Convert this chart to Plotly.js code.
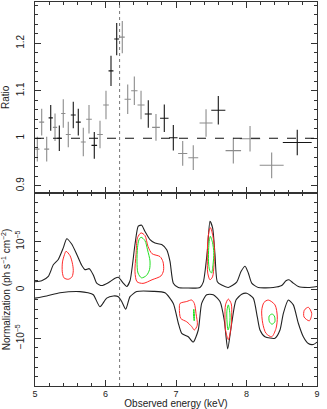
<!DOCTYPE html>
<html>
<head>
<meta charset="utf-8">
<script src="https://cdn.plot.ly/plotly-3.0.1.min.js"></script>
<style>
  html, body { margin: 0; padding: 0; background: #fff; }
  #chart { width: 327px; height: 409px; }
</style>
</head>
<body>
<div id="chart"></div>
<script>
// top panel: data / model ratio
var energy = [5.033, 5.095, 5.166, 5.223, 5.284, 5.345, 5.401, 5.472, 5.543, 5.614, 5.685,
  5.766, 5.841, 5.922, 6.007, 6.078, 6.159, 6.238, 6.315, 6.409, 6.504, 6.607, 6.716,
  6.834, 6.962, 7.095, 7.245, 7.426, 7.600, 7.813, 8.050, 8.357, 8.720];
var energyErr = [0.03, 0.035, 0.035, 0.03, 0.03, 0.03, 0.03, 0.035, 0.035, 0.035, 0.035,
  0.04, 0.04, 0.04, 0.04, 0.035, 0.035, 0.035, 0.045, 0.045, 0.05, 0.05, 0.055,
  0.06, 0.06, 0.065, 0.07, 0.092, 0.10, 0.11, 0.145, 0.17, 0.205];
var ratio = [0.977, 1.034, 0.977, 1.043, 1.023, 1.000, 1.052, 1.008, 1.049, 1.034, 0.992,
  1.040, 0.985, 1.008, 1.070, 1.142, 1.209, 1.213, 1.082, 1.100, 1.070, 1.051, 1.023,
  1.042, 1.001, 0.968, 0.959, 1.032, 1.059, 0.974, 0.999, 0.943, 0.991];
var ratioErr = [0.026, 0.028, 0.026, 0.027, 0.029, 0.027, 0.030, 0.027, 0.028, 0.028, 0.030,
  0.030, 0.028, 0.029, 0.030, 0.032, 0.034, 0.034, 0.031, 0.030, 0.030, 0.029, 0.028,
  0.029, 0.027, 0.026, 0.026, 0.029, 0.030, 0.027, 0.027, 0.027, 0.027];
// k = dark cross, g = grey cross
var shade = ["g","g","g","k","g","k","g","g","k","k","g",
  "g","k","g","g","k","k","g","g","g","g","k","g",
  "k","k","g","g","g","k","g","g","g","k"];

var lineEnergy = 6.2;

// bottom panel: normalization contours (units of 1e-5 ph/s/cm2)
var upperE = [5.0, 5.095, 5.189, 5.26, 5.33, 5.401, 5.45, 5.52, 5.591, 5.662, 5.709, 5.77, 5.827,
  5.875, 5.946, 6.04, 6.135, 6.182, 6.252, 6.30, 6.348, 6.418, 6.465, 6.513, 6.56, 6.631,
  6.702, 6.797, 6.868, 6.915, 6.962, 7.033, 7.152, 7.34, 7.387, 7.444, 7.482, 7.52, 7.553,
  7.586, 7.648, 7.742, 7.861, 7.922, 7.979, 8.026, 8.074, 8.167, 8.38, 8.499, 8.56, 8.603,
  8.664, 8.735, 8.877, 9.0];
var upperN = [0.17, 0.19, 0.28, 0.52, 0.63, 0.87, 1.06, 0.95, 0.74, 0.51, 0.42, 0.44, 0.31,
  0.14, 0.09, 0.15, 0.24, 0.26, 0.14, 0.07, 0.19, 0.94, 1.32, 1.34, 1.21, 1.04,
  0.97, 0.94, 0.83, 0.59, 0.14, 0.05, 0.04, 0.05, 0.16, 0.80, 1.42, 1.28, 0.73,
  0.17, 0.10, 0.05, 0.16, 0.38, 0.49, 0.35, 0.14, 0.05, 0.05, 0.09, 0.19, 0.21,
  0.14, 0.07, 0.05, 0.07];
var lowerE = [5.0, 5.166, 5.355, 5.638, 5.752, 5.827, 5.922, 6.017, 6.111, 6.182, 6.23, 6.287,
  6.348, 6.443, 6.678, 6.844, 6.962, 7.033, 7.081, 7.174, 7.245, 7.316, 7.364, 7.435, 7.529,
  7.624, 7.685, 7.733, 7.79, 7.851, 7.932, 8.003, 8.096, 8.153, 8.191, 8.262, 8.404, 8.475,
  8.522, 8.593, 8.664, 8.735, 8.806, 8.877, 8.948, 9.0];
var lowerN = [-0.17, -0.125, -0.06, -0.035, -0.06, -0.10, -0.35, -0.17, -0.125, -0.14, -0.24, -0.40,
  -0.14, -0.035, -0.03, -0.06, -0.28, -0.69, -0.90, -0.97, -1.08, -0.83, -0.28, -0.10, -0.10,
  -0.24, -0.63, -1.22, -0.69, -0.21, -0.09, -0.07, -0.17, -0.56, -0.83, -0.97, -1.00, -0.83,
  -0.49, -0.21, -0.31, -0.69, -0.97, -1.11, -1.13, -1.08];

var redLoops = [
  { e: [5.44, 5.496, 5.529, 5.543, 5.525, 5.472, 5.411, 5.387, 5.39, 5.418],
    n: [0.80, 0.71, 0.56, 0.40, 0.27, 0.22, 0.25, 0.375, 0.58, 0.73] },
  { e: [6.454, 6.504, 6.56, 6.603, 6.66, 6.773, 6.816, 6.823, 6.787, 6.66, 6.532, 6.447, 6.418, 6.433],
    n: [1.08, 1.18, 1.125, 0.90, 0.75, 0.69, 0.58, 0.40, 0.29, 0.21, 0.135, 0.17, 0.375, 0.73] },
  { e: [7.489, 7.525, 7.546, 7.539, 7.518, 7.482, 7.45, 7.444, 7.45, 7.468],
    n: [1.29, 1.10, 0.83, 0.52, 0.27, 0.21, 0.35, 0.67, 1.00, 1.21] },
  { e: [7.057, 7.152, 7.223, 7.26, 7.284, 7.302, 7.26, 7.223, 7.152, 7.067, 7.048],
    n: [-0.28, -0.24, -0.21, -0.28, -0.49, -0.73, -0.83, -0.76, -0.66, -0.59, -0.38] },
  { e: [7.742, 7.784, 7.79, 7.78, 7.742, 7.702, 7.695, 7.702],
    n: [-0.19, -0.29, -0.52, -0.79, -1.03, -0.83, -0.58, -0.31] },
  { e: [8.309, 8.404, 8.437, 8.418, 8.357, 8.277, 8.23, 8.216, 8.248],
    n: [-0.21, -0.31, -0.56, -0.80, -0.97, -0.90, -0.69, -0.42, -0.26] },
  { e: [8.877, 8.925, 8.891, 8.816, 8.82],
    n: [-0.36, -0.49, -0.64, -0.56, -0.42] }
];
var greenLoops = [
  { e: [6.504, 6.56, 6.596, 6.631, 6.624, 6.582, 6.511, 6.461, 6.447, 6.454, 6.475],
    n: [1.09, 1.02, 0.83, 0.60, 0.42, 0.30, 0.25, 0.35, 0.58, 0.875, 1.04] },
  { e: [7.487, 7.518, 7.536, 7.525, 7.504, 7.478, 7.461, 7.464, 7.474],
    n: [1.11, 0.98, 0.77, 0.52, 0.35, 0.40, 0.58, 0.875, 1.04] },
  { e: [7.252, 7.262, 7.258, 7.248],
    n: [-0.40, -0.52, -0.64, -0.52] },
  { e: [7.742, 7.766, 7.759, 7.738, 7.721, 7.723],
    n: [-0.31, -0.52, -0.73, -0.83, -0.58, -0.42] },
  { e: [8.362, 8.395, 8.402, 8.362, 8.325, 8.322],
    n: [-0.50, -0.54, -0.66, -0.71, -0.66, -0.54] }
];

var unit = 1e-5;
var data = [];

// ratio crosses, one trace per shade
[["k", "#161616", 1.1], ["g", "#8c8c8c", 1.1]].forEach(function (s) {
  var idx = [];
  shade.forEach(function (v, i) { if (v === s[0]) idx.push(i); });
  data.push({
    x: idx.map(i => energy[i]),
    y: idx.map(i => ratio[i]),
    xaxis: "x2", yaxis: "y2",
    type: "scatter", mode: "markers",
    marker: { size: 0.1, color: s[1] },
    error_x: { type: "data", array: idx.map(i => energyErr[i]), width: 0, thickness: s[2], color: s[1] },
    error_y: { type: "data", array: idx.map(i => ratioErr[i]), width: 0, thickness: s[2], color: s[1] },
    hoverinfo: "skip"
  });
});

function closed(arr) { return arr.concat([arr[0]]); }

data.push({ x: upperE, y: upperN.map(v => v * unit), type: "scatter", mode: "lines",
  line: { color: "#222", width: 1.1, shape: "spline", smoothing: 0.6 } });
data.push({ x: lowerE, y: lowerN.map(v => v * unit), type: "scatter", mode: "lines",
  line: { color: "#222", width: 1.1, shape: "spline", smoothing: 0.6 } });

redLoops.forEach(function (c) {
  data.push({ x: closed(c.e), y: closed(c.n).map(v => v * unit), type: "scatter", mode: "lines",
    line: { color: "#ff2a2a", width: 1, shape: "spline", smoothing: 0.8 } });
});
greenLoops.forEach(function (c) {
  data.push({ x: closed(c.e), y: closed(c.n).map(v => v * unit), type: "scatter", mode: "lines",
    line: { color: "#22e022", width: 1, shape: "spline", smoothing: 0.8 } });
});

var fnt = { family: "Liberation Sans, Arial, sans-serif", size: 10, color: "#222" };
var small = { family: "Liberation Sans, Arial, sans-serif", size: 9, color: "#222" };
var split = 0.503;

var layout = {
  width: 327, height: 409,
  margin: { l: 35, r: 10, t: 2, b: 23 },
  paper_bgcolor: "#fff", plot_bgcolor: "#fff",
  showlegend: false,
  font: fnt,
  xaxis: {
    range: [5, 9], domain: [0, 1], anchor: "y",
    tickvals: [5, 6, 7, 8, 9], ticks: "inside", ticklen: 6, tickcolor: "#333",
    tickfont: small,
    minor: { dtick: 0.2, tick0: 5, ticks: "inside", ticklen: 3, tickcolor: "#333" },
    showline: true, linecolor: "#333", linewidth: 1, mirror: "ticks",
    showgrid: false, zeroline: false,
    ticklabelstandoff: -1,
    title: { text: "Observed energy (keV)", font: fnt, standoff: 0 }
  },
  yaxis: {
    range: [-1.99e-5, 2.01e-5], domain: [0, split], anchor: "x",
    tickvals: [-1e-5, 0, 1e-5],
    ticktext: ["\u221210<sup>\u22125</sup>", "0", "10<sup>\u22125</sup>"],
    tickangle: -90, ticks: "inside", ticklen: 6, tickcolor: "#333",
    minor: { dtick: 0.2e-5, tick0: 0, ticks: "inside", ticklen: 3, tickcolor: "#333" },
    showline: true, linecolor: "#333", linewidth: 1, mirror: "ticks",
    showgrid: false, zeroline: false,
    ticklabelstandoff: 6,
    title: { text: "Normalization (ph s<sup>\u22121</sup> cm<sup>\u22122</sup>)", font: fnt, standoff: 4 }
  },
  xaxis2: {
    range: [5, 9], domain: [0, 1], anchor: "y2", matches: "x",
    tickvals: [5, 6, 7, 8, 9], showticklabels: false,
    ticks: "inside", ticklen: 6, tickcolor: "#333",
    minor: { dtick: 0.2, tick0: 5, ticks: "inside", ticklen: 3, tickcolor: "#333" },
    showline: true, linecolor: "#333", linewidth: 1, mirror: "ticks",
    showgrid: false, zeroline: false
  },
  yaxis2: {
    range: [0.885, 1.287], domain: [split, 1], anchor: "x2",
    tickvals: [0.9, 1, 1.1, 1.2], ticktext: ["0.9", "1", "1.1", "1.2"],
    tickangle: -90, ticks: "inside", ticklen: 6, tickcolor: "#333",
    minor: { dtick: 0.02, tick0: 0.9, ticks: "inside", ticklen: 3, tickcolor: "#333" },
    showline: true, linecolor: "#333", linewidth: 1, mirror: "ticks",
    showgrid: false, zeroline: false,
    ticklabelstandoff: 6,
    title: { text: "Ratio", font: fnt, standoff: 4 }
  },
  shapes: [
    { type: "line", xref: "x", yref: "paper", x0: lineEnergy, x1: lineEnergy, y0: 0, y1: 1,
      line: { color: "#777", width: 1, dash: "dot" } },
    { type: "line", xref: "paper", yref: "y2", x0: 0, x1: 1, y0: 1, y1: 1,
      line: { color: "#111", width: 1.2, dash: "dash" } }
  ]
};

Plotly.newPlot("chart", data, layout, { displayModeBar: false, staticPlot: true });
</script>
</body>
</html>
